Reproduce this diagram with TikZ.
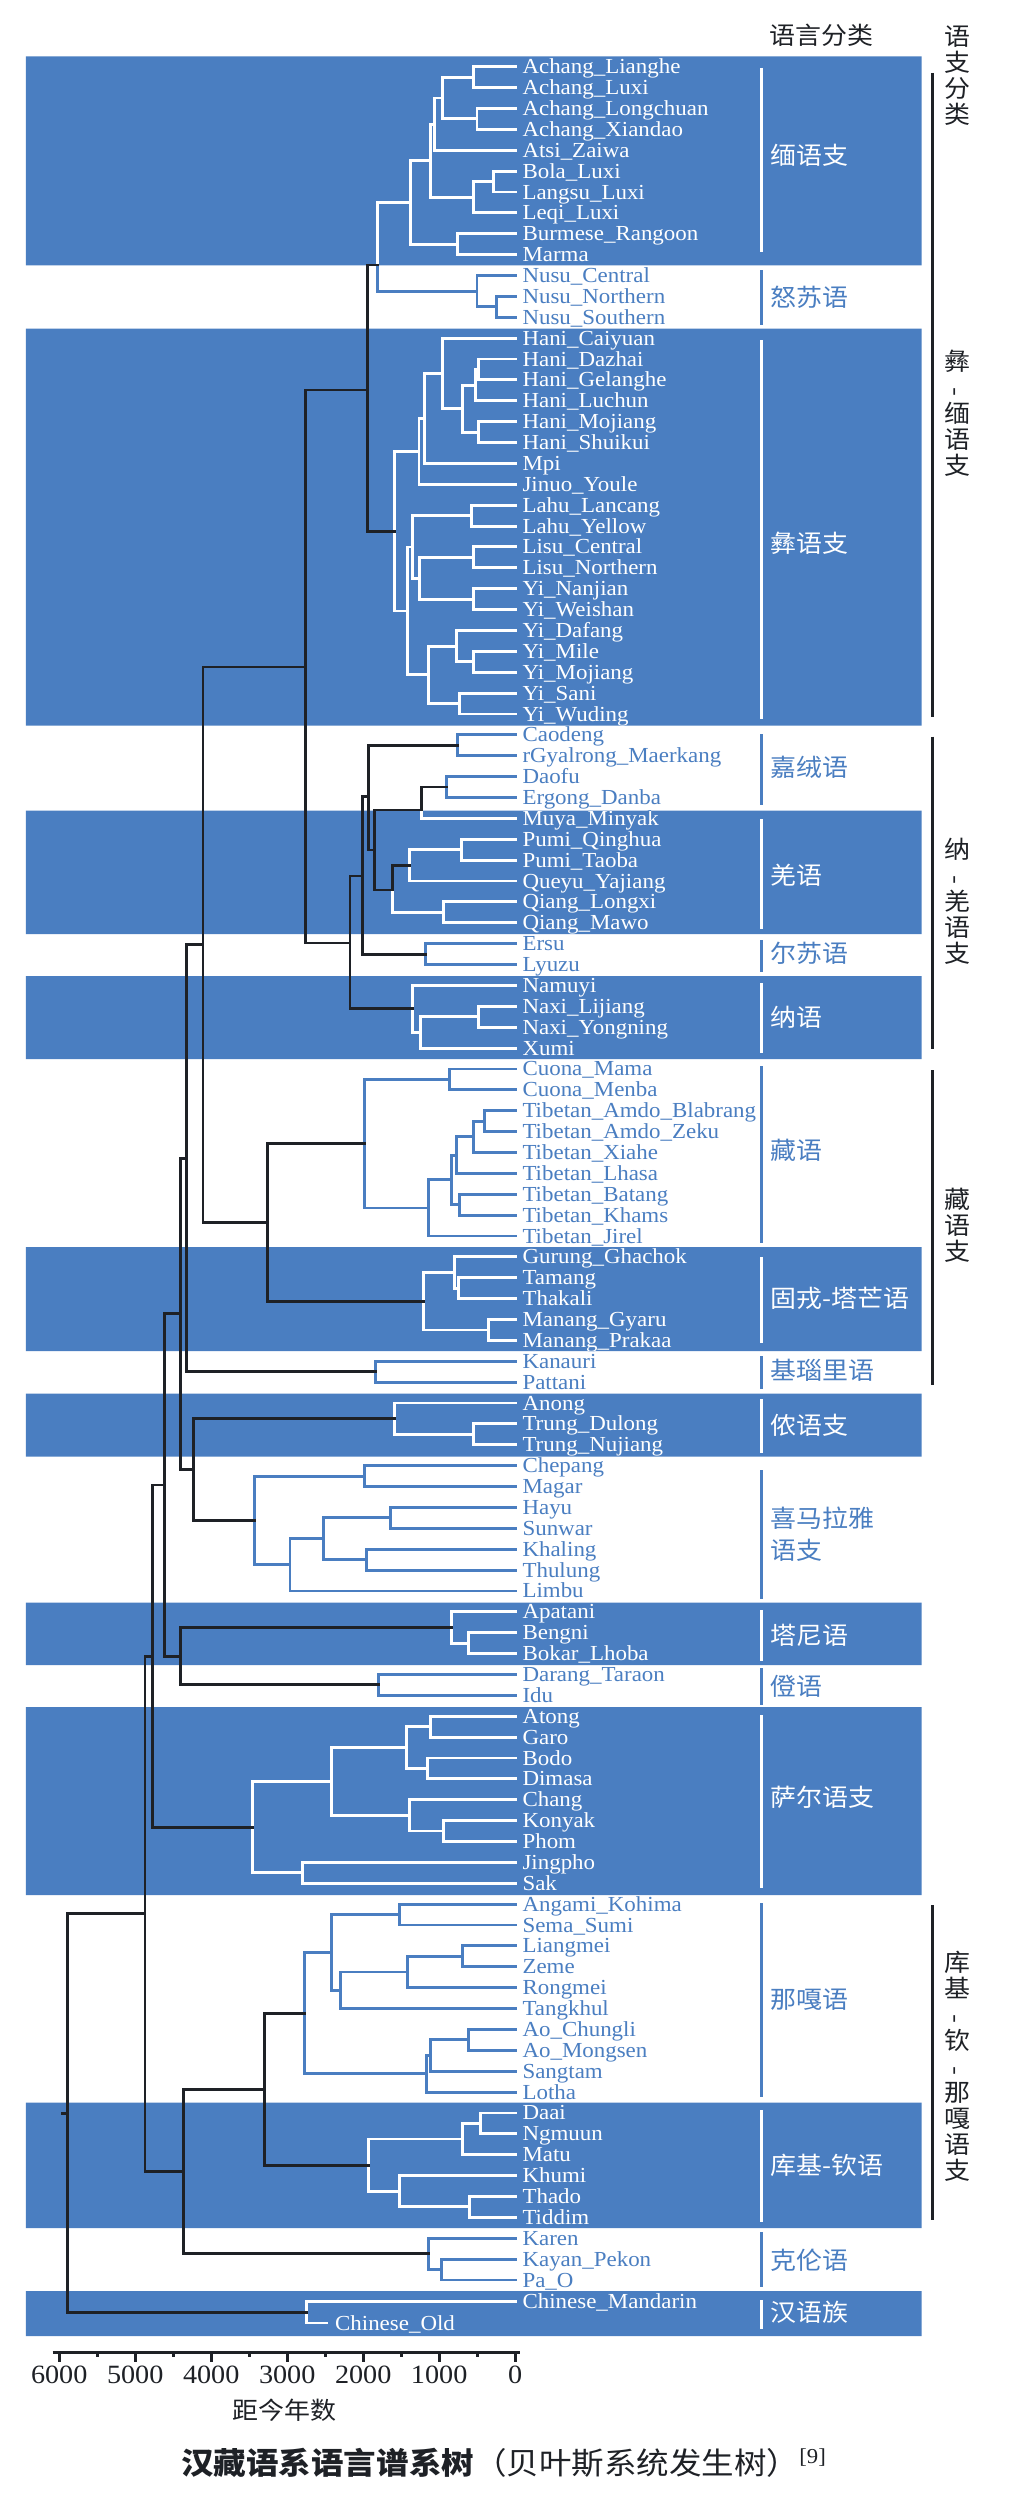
\documentclass[tikz,border=0pt]{standalone}
\usepackage{fontspec}
\setmainfont{Liberation Serif}[FakeStretch=1.07]
\newfontfamily\cjk{Noto Sans CJK SC}[FakeStretch=1.07]
\definecolor{bandblue}{HTML}{4A7EC1}
\definecolor{treeink}{HTML}{1E2126}
\usetikzlibrary{positioning}

\newcommand\leafnames{Achang_Lianghe,Achang_Luxi,Achang_Longchuan,Achang_Xiandao,Atsi_Zaiwa,Bola_Luxi,Langsu_Luxi,Leqi_Luxi,Burmese_Rangoon,Marma,Nusu_Central,Nusu_Northern,Nusu_Southern,Hani_Caiyuan,Hani_Dazhai,Hani_Gelanghe,Hani_Luchun,Hani_Mojiang,Hani_Shuikui,Mpi,Jinuo_Youle,Lahu_Lancang,Lahu_Yellow,Lisu_Central,Lisu_Northern,Yi_Nanjian,Yi_Weishan,Yi_Dafang,Yi_Mile,Yi_Mojiang,Yi_Sani,Yi_Wuding,Caodeng,rGyalrong_Maerkang,Daofu,Ergong_Danba,Muya_Minyak,Pumi_Qinghua,Pumi_Taoba,Queyu_Yajiang,Qiang_Longxi,Qiang_Mawo,Ersu,Lyuzu,Namuyi,Naxi_Lijiang,Naxi_Yongning,Xumi,Cuona_Mama,Cuona_Menba,Tibetan_Amdo_Blabrang,Tibetan_Amdo_Zeku,Tibetan_Xiahe,Tibetan_Lhasa,Tibetan_Batang,Tibetan_Khams,Tibetan_Jirel,Gurung_Ghachok,Tamang,Thakali,Manang_Gyaru,Manang_Prakaa,Kanauri,Pattani,Anong,Trung_Dulong,Trung_Nujiang,Chepang,Magar,Hayu,Sunwar,Khaling,Thulung,Limbu,Apatani,Bengni,Bokar_Lhoba,Darang_Taraon,Idu,Atong,Garo,Bodo,Dimasa,Chang,Konyak,Phom,Jingpho,Sak,Angami_Kohima,Sema_Sumi,Liangmei,Zeme,Rongmei,Tangkhul,Ao_Chungli,Ao_Mongsen,Sangtam,Lotha,Daai,Ngmuun,Matu,Khumi,Thado,Tiddim,Karen,Kayan_Pekon,Pa_O}

\newcommand\bandrects{(40,56.3) rectangle (1430,265.3) (40,328.5) rectangle (1430,725.5) (40,810.5) rectangle (1430,934) (40,976) rectangle (1430,1059) (40,1247) rectangle (1430,1351) (40,1393.5) rectangle (1430,1456.5) (40,1602.5) rectangle (1430,1665) (40,1707) rectangle (1430,1895) (40,2102.5) rectangle (1430,2228) (40,2291) rectangle (1430,2336)}

\newcommand\cladepaths{%
  (achA) |- (Achang_Lianghe) (achA) |- (Achang_Luxi)
  (achB) |- (Achang_Longchuan) (achB) |- (Achang_Xiandao)
  (ach) |- (achA) (ach) |- (achB)
  (achAtsi) |- (ach) (achAtsi) |- (Atsi_Zaiwa)
  (blA) |- (Bola_Luxi) (blA) |- (Langsu_Luxi)
  (bl) |- (blA) (bl) |- (Leqi_Luxi)
  (achBl) |- (achAtsi) (achBl) |- (bl)
  (burMar) |- (Burmese_Rangoon) (burMar) |- (Marma)
  (burmish) |- (achBl) (burmish) |- (burMar)
  (nusuA) |- (Nusu_Northern) (nusuA) |- (Nusu_Southern)
  (nusu) |- (Nusu_Central) (nusu) |- (nusuA)
  (burNusu) |- (burmish) (burNusu) |- (nusu)
  (haniA) |- (Hani_Dazhai) (haniA) |- (Hani_Gelanghe)
  (haniB) |- (haniA) (haniB) |- (Hani_Luchun)
  (haniC) |- (Hani_Mojiang) (haniC) |- (Hani_Shuikui)
  (haniD) |- (haniB) (haniD) |- (haniC)
  (hani) |- (Hani_Caiyuan) (hani) |- (haniD)
  (haniMpi) |- (hani) (haniMpi) |- (Mpi)
  (haniJinuo) |- (haniMpi) (haniJinuo) |- (Jinuo_Youle)
  (lahu) |- (Lahu_Lancang) (lahu) |- (Lahu_Yellow)
  (lisu) |- (Lisu_Central) (lisu) |- (Lisu_Northern)
  (yiW) |- (Yi_Nanjian) (yiW) |- (Yi_Weishan)
  (lisuYi) |- (lisu) (lisuYi) |- (yiW)
  (lahuLisu) |- (lahu) (lahuLisu) |- (lisuYi)
  (yiMile) |- (Yi_Mile) (yiMile) |- (Yi_Mojiang)
  (yiDafang) |- (Yi_Dafang) (yiDafang) |- (yiMile)
  (yiSani) |- (Yi_Sani) (yiSani) |- (Yi_Wuding)
  (yiE) |- (yiDafang) (yiE) |- (yiSani)
  (lolo) |- (lahuLisu) (lolo) |- (yiE)
  (ngwi) |- (haniJinuo) (ngwi) |- (lolo)
  (rgyal) |- (Caodeng) (rgyal) |- (rGyalrong_Maerkang)
  (daofuErg) |- (Daofu) (daofuErg) |- (Ergong_Danba)
  (muyaDao) |- (Muya_Minyak)
  (pumi) |- (Pumi_Qinghua) (pumi) |- (Pumi_Taoba)
  (queyu) |- (pumi) (queyu) |- (Queyu_Yajiang)
  (qiang) |- (Qiang_Longxi) (qiang) |- (Qiang_Mawo)
  (pumiQiang) |- (qiang)
  (ersuLyuzu) |- (Ersu) (ersuLyuzu) |- (Lyuzu)
  (naxiA) |- (Naxi_Lijiang) (naxiA) |- (Naxi_Yongning)
  (naxiXumi) |- (naxiA) (naxiXumi) |- (Xumi)
  (naxi) |- (Namuyi) (naxi) |- (naxiXumi)
  (cuona) |- (Cuona_Mama) (cuona) |- (Cuona_Menba)
  (amdo) |- (Tibetan_Amdo_Blabrang) (amdo) |- (Tibetan_Amdo_Zeku)
  (amdoX) |- (amdo) (amdoX) |- (Tibetan_Xiahe)
  (amdoL) |- (amdoX) (amdoL) |- (Tibetan_Lhasa)
  (khams) |- (Tibetan_Batang) (khams) |- (Tibetan_Khams)
  (tibA) |- (amdoL) (tibA) |- (khams)
  (tibetan) |- (tibA) (tibetan) |- (Tibetan_Jirel)
  (bodish) |- (cuona) (bodish) |- (tibetan)
  (tamThak) |- (Tamang) (tamThak) |- (Thakali)
  (gurung) |- (Gurung_Ghachok) (gurung) |- (tamThak)
  (manang) |- (Manang_Gyaru) (manang) |- (Manang_Prakaa)
  (tgm) |- (gurung) (tgm) |- (manang)
  (kanPat) |- (Kanauri) (kanPat) |- (Pattani)
  (trung) |- (Trung_Dulong) (trung) |- (Trung_Nujiang)
  (nung) |- (Anong) (nung) |- (trung)
  (chepMagar) |- (Chepang) (chepMagar) |- (Magar)
  (hayuSun) |- (Hayu) (hayuSun) |- (Sunwar)
  (khalThul) |- (Khaling) (khalThul) |- (Thulung)
  (kiranti) |- (hayuSun) (kiranti) |- (khalThul)
  (kirLimbu) |- (kiranti) (kirLimbu) |- (Limbu)
  (himal) |- (chepMagar) (himal) |- (kirLimbu)
  (bengBokar) |- (Bengni) (bengBokar) |- (Bokar_Lhoba)
  (tani) |- (Apatani) (tani) |- (bengBokar)
  (darang) |- (Darang_Taraon) (darang) |- (Idu)
  (atongGaro) |- (Atong) (atongGaro) |- (Garo)
  (bodoDimasa) |- (Bodo) (bodoDimasa) |- (Dimasa)
  (boro) |- (atongGaro) (boro) |- (bodoDimasa)
  (konyakPhom) |- (Konyak) (konyakPhom) |- (Phom)
  (changKonyak) |- (Chang) (changKonyak) |- (konyakPhom)
  (boroKonyak) |- (boro) (boroKonyak) |- (changKonyak)
  (jingphoSak) |- (Jingpho) (jingphoSak) |- (Sak)
  (sal) |- (boroKonyak) (sal) |- (jingphoSak)
  (angami) |- (Angami_Kohima) (angami) |- (Sema_Sumi)
  (liang) |- (Liangmei) (liang) |- (Zeme)
  (liangRong) |- (liang) (liangRong) |- (Rongmei)
  (liangTang) |- (liangRong) (liangTang) |- (Tangkhul)
  (angTang) |- (angami) (angTang) |- (liangTang)
  (ao) |- (Ao_Chungli) (ao) |- (Ao_Mongsen)
  (aoSang) |- (ao) (aoSang) |- (Sangtam)
  (aoLotha) |- (aoSang) (aoLotha) |- (Lotha)
  (naga) |- (angTang) (naga) |- (aoLotha)
  (daaiNg) |- (Daai) (daaiNg) |- (Ngmuun)
  (daaiMatu) |- (daaiNg) (daaiMatu) |- (Matu)
  (thadoTid) |- (Thado) (thadoTid) |- (Tiddim)
  (khumiThado) |- (Khumi) (khumiThado) |- (thadoTid)
  (kuki) |- (daaiMatu) (kuki) |- (khumiThado)
  (kayanPao) |- (Kayan_Pekon) (kayanPao) |- (Pa_O)
  (karenKayan) |- (Karen) (karenKayan) |- (kayanPao)
  (sinitic) |- (Chinese_Mandarin) (sinitic) |- (Chinese_Old)}

\newcommand\leaflabels[1]{%
  \foreach \nm in \leafnames {\node[leaf, text=#1, right=0.14cm of \nm] (lbl\nm) {\detokenize\expandafter{\nm}};}%
  \node[leaf, text=#1, right=0.14cm of Chinese_Mandarin] (lblMandarin) {Chinese\_Mandarin};%
  \node[leaf, text=#1, right=0.16cm of Chinese_Old] (lblOld) {Chinese\_Old};}

\begin{document}
\begin{tikzpicture}[x=0.012887cm, y=-0.02cm,
    leaf/.style={font=\fontsize{12.2pt}{14pt}\selectfont, inner sep=0pt, text height=8pt, text depth=0pt},
    clade/.style={line width=1.65pt, line cap=rect},
    spine/.style={treeink, line width=1.65pt, line cap=rect},
    grpbar/.style={line width=1.6pt},
    grplabel/.style={font=\cjk\fontsize{13.8pt}{18.2pt}\selectfont, anchor=west, inner sep=0pt, align=left},
    vlabel/.style={font=\cjk\fontsize{13.8pt}{14.8pt}\selectfont, align=center, inner sep=0pt, text=treeink},
    bracket/.style={treeink, line width=1.7pt},
    axis/.style={treeink, line width=1.5pt},
    ticklabel/.style={font=\fontsize{15pt}{17pt}\selectfont, inner sep=0pt, text=treeink}]
  \useasboundingbox (0,0) rectangle (1564.4,2504);
  \fill[white] (0,0) rectangle (1564.4,2504);
  \fill[bandblue] \bandrects;

  \foreach \nm [count=\i] in \leafnames {\coordinate (\nm) at (799.3,{66.7+(\i-1)*20.88});}
  \coordinate (Chinese_Mandarin) at (799.3,2301.7);
  \coordinate (Chinese_Old) at (507,2323);

  \coordinate (achA) at (735,77.2);
  \coordinate (achB) at (740,118.9);
  \coordinate (ach) at (687,98);
  \coordinate (achAtsi) at (674,124.1);
  \coordinate (blA) at (765,181.5);
  \coordinate (bl) at (735,197.2);
  \coordinate (achBl) at (668,160.6);
  \coordinate (burMar) at (710,244.2);
  \coordinate (burmish) at (637,202.4);
  \coordinate (nusuA) at (770,306.8);
  \coordinate (nusu) at (740,291.2);
  \coordinate (burNusu) at (586,265);
  \coordinate (haniA) at (742,369.5);
  \coordinate (haniB) at (738,385.1);
  \coordinate (haniC) at (742,432.1);
  \coordinate (haniD) at (718,408.6);
  \coordinate (hani) at (687,373.4);
  \coordinate (haniMpi) at (658,418.4);
  \coordinate (haniJinuo) at (650,451.4);
  \coordinate (lahu) at (732,515.7);
  \coordinate (lisu) at (735,557.4);
  \coordinate (yiW) at (735,599.2);
  \coordinate (lisuYi) at (651,578.3);
  \coordinate (lahuLisu) at (640,547);
  \coordinate (yiMile) at (735,661.8);
  \coordinate (yiDafang) at (708,646.2);
  \coordinate (yiSani) at (713,703.6);
  \coordinate (yiE) at (665,674.9);
  \coordinate (lolo) at (632,611);
  \coordinate (ngwi) at (612,531.2);
  \coordinate (lolobur) at (570,390);
  \coordinate (rgyal) at (710,745.3);
  \coordinate (daofuErg) at (693,787);
  \coordinate (muyaDao) at (654,810);
  \coordinate (pumi) at (716,849.7);
  \coordinate (queyu) at (635,865.4);
  \coordinate (qiang) at (688,912.4);
  \coordinate (pumiQiang) at (609,890);
  \coordinate (qiangic) at (581,850);
  \coordinate (rgyalQiang) at (572,796.5);
  \coordinate (ersuLyuzu) at (660,954.1);
  \coordinate (ersuQiang) at (562,876);
  \coordinate (naxiA) at (742,1016.8);
  \coordinate (naxiXumi) at (652,1032.4);
  \coordinate (naxi) at (640,1008.9);
  \coordinate (naQiang) at (543,943);
  \coordinate (burQiang) at (474,667);
  \coordinate (cuona) at (697,1079.4);
  \coordinate (amdo) at (752,1121.2);
  \coordinate (amdoX) at (735,1136.9);
  \coordinate (amdoL) at (708,1155.1);
  \coordinate (khams) at (713,1204.7);
  \coordinate (tibA) at (700,1179.9);
  \coordinate (tibetan) at (665,1208);
  \coordinate (bodish) at (565,1143.7);
  \coordinate (tamThak) at (712,1288.2);
  \coordinate (gurung) at (705,1272.5);
  \coordinate (manang) at (758,1330);
  \coordinate (tgm) at (657,1301.2);
  \coordinate (bodTgm) at (415,1222.5);
  \coordinate (burBod) at (315,944.8);
  \coordinate (kanPat) at (582,1371.7);
  \coordinate (burKan) at (290,1158.3);
  \coordinate (trung) at (735,1434.3);
  \coordinate (nung) at (612,1418.7);
  \coordinate (chepMagar) at (565,1476.1);
  \coordinate (hayuSun) at (606,1517.9);
  \coordinate (khalThul) at (568,1559.7);
  \coordinate (kiranti) at (502,1538.8);
  \coordinate (kirLimbu) at (450,1564.9);
  \coordinate (himal) at (395,1520.5);
  \coordinate (nungHim) at (300,1469.6);
  \coordinate (burNung) at (280,1313.9);
  \coordinate (bengBokar) at (727,1643.2);
  \coordinate (tani) at (700,1627.5);
  \coordinate (darang) at (587,1684.9);
  \coordinate (taniIdu) at (280,1656.2);
  \coordinate (burTani) at (255,1485);
  \coordinate (atongGaro) at (668,1726.7);
  \coordinate (bodoDimasa) at (663,1768.4);
  \coordinate (boro) at (630,1747.6);
  \coordinate (konyakPhom) at (688,1831);
  \coordinate (changKonyak) at (635,1815.4);
  \coordinate (boroKonyak) at (515,1781.5);
  \coordinate (jingphoSak) at (470,1872.8);
  \coordinate (sal) at (392,1827.2);
  \coordinate (burSal) at (237,1656.1);
  \coordinate (angami) at (620,1914.6);
  \coordinate (liang) at (718,1956.4);
  \coordinate (liangRong) at (632,1972);
  \coordinate (liangTang) at (528,1990.3);
  \coordinate (angTang) at (515,1952.4);
  \coordinate (ao) at (727,2039.8);
  \coordinate (aoSang) at (668,2055.5);
  \coordinate (aoLotha) at (662,2073.8);
  \coordinate (naga) at (472,2013.1);
  \coordinate (daaiNg) at (745,2123.4);
  \coordinate (daaiMatu) at (718,2139);
  \coordinate (thadoTid) at (728,2206.9);
  \coordinate (khumiThado) at (620,2191.3);
  \coordinate (kuki) at (572,2165.1);
  \coordinate (nagaKuki) at (410,2089.1);
  \coordinate (kayanPao) at (685,2269.5);
  \coordinate (karenKayan) at (665,2253.9);
  \coordinate (nagaKaren) at (285,2171.5);
  \coordinate (tibetoBurman) at (225,1913.8);
  \coordinate (sinitic) at (475,2312.5);
  \coordinate (root) at (105,2113.2);
  \coordinate (rootStub) at (97,2113.2);

  \draw[clade, bandblue] \cladepaths;
  \leaflabels{bandblue}
  \begin{scope}
    \clip \bandrects;
    \draw[clade, white] \cladepaths;
    \leaflabels{white}
  \end{scope}

  \draw[spine] (lolobur) |- (burNusu) (lolobur) |- (ngwi)
    (burQiang) |- (lolobur) (burQiang) |- (naQiang)
    (naQiang) |- (ersuQiang) (naQiang) |- (naxi)
    (ersuQiang) |- (rgyalQiang) (ersuQiang) |- (ersuLyuzu)
    (rgyalQiang) |- (rgyal) (rgyalQiang) |- (qiangic)
    (qiangic) |- (muyaDao) (qiangic) |- (pumiQiang)
    (muyaDao) |- (daofuErg) (pumiQiang) |- (queyu)
    (bodTgm) |- (bodish) (bodTgm) |- (tgm)
    (burBod) |- (burQiang) (burBod) |- (bodTgm)
    (burKan) |- (burBod) (burKan) |- (kanPat)
    (nungHim) |- (nung) (nungHim) |- (himal)
    (burNung) |- (burKan) (burNung) |- (nungHim)
    (taniIdu) |- (tani) (taniIdu) |- (darang)
    (burTani) |- (burNung) (burTani) |- (taniIdu)
    (burSal) |- (burTani) (burSal) |- (sal)
    (nagaKuki) |- (naga) (nagaKuki) |- (kuki)
    (nagaKaren) |- (nagaKuki) (nagaKaren) |- (karenKayan)
    (tibetoBurman) |- (burSal) (tibetoBurman) |- (nagaKaren)
    (root) |- (tibetoBurman) (root) |- (sinitic)
    (rootStub) -- (root);

  \node[grplabel, text=treeink] (header) at (1193.5,35) {语言分类};
  \foreach \ya/\yb/\yt/\txt/\col [count=\g] in {68/252/155/缅语支/white, 270/325/297/怒苏语/bandblue, 340/719/543/彝语支/white, 734/805/768/嘉绒语/bandblue, 819/929/875/羌语/white, 940/972/953/尔苏语/bandblue, 983/1053/1017/纳语/white, 1066/1243/1150/藏语/bandblue, 1257/1343/1298/固戎-塔芒语/white, 1356/1389/1370/基瑙里语/bandblue, 1399/1453/1425/侬语支/white, 1470/1599/1534/喜马拉雅\\语支/bandblue, 1610/1661/1635/塔尼语/white, 1668/1705/1686/僜语/bandblue, 1715/1888/1797/萨尔语支/white, 1903/2097/2000/那嘎语/bandblue, 2110/2222/2165/库基-钦语/white, 2232/2287/2260/克伦语/bandblue, 2300/2329/2312/汉语族/white}
    {\draw[grpbar, \col] (1182,\ya) -- (1182,\yb);
     \node[grplabel, text=\col] (grp\g) at (1195,\yt) {\txt};}

  \foreach \ya/\yb in {73/717, 736.7/1049.3, 1070/1385, 1905/2220}
    {\draw[bracket] (1446,\ya) -- (1446,\yb);}
  \foreach \yv/\txt [count=\v] in {75.5/语\\支\\分\\类, 413/彝\\\rotatebox{90}{-}\\缅\\语\\支, 901/纳\\\rotatebox{90}{-}\\羌\\语\\支, 1225/藏\\语\\支, 2066/库\\基\\\rotatebox{90}{-}\\钦\\\rotatebox{90}{-}\\那\\嘎\\语\\支}
    {\node[vlabel] (vlab\v) at (1486,\yv) {\txt};}

  \coordinate (axisL) at (81.8,2352.7);
  \coordinate (axisR) at (807,2352.7);
  \draw[axis] (axisL) -- (axisR);
  \foreach \k/\lab in {0/0,1/1000,2/2000,3/3000,4/4000,5/5000,6/6000}
    {\draw[axis] ({799.3-117.9*\k},2352.7) -- ++(0,9);
     \node[ticklabel] (tick\k) at ({799.3-117.9*\k},2375) {\lab};}
  \foreach \k in {0.5,1.5,2.5,3.5,4.5,5.5}
    {\draw[axis] ({799.3-117.9*\k},2352.7) -- ++(0,4);}
  \node[vlabel] (axistitle) at (440.8,2410) {距今年数};
  \node[font=\cjk\fontsize{17.3pt}{20pt}\selectfont, text=treeink, inner sep=0pt] (caption) at (782,2463)
    {{\bfseries 汉藏语系语言谱系树}（贝叶斯系统发生树）\textsuperscript{\rmfamily [9]}};
\end{tikzpicture}
\end{document}
